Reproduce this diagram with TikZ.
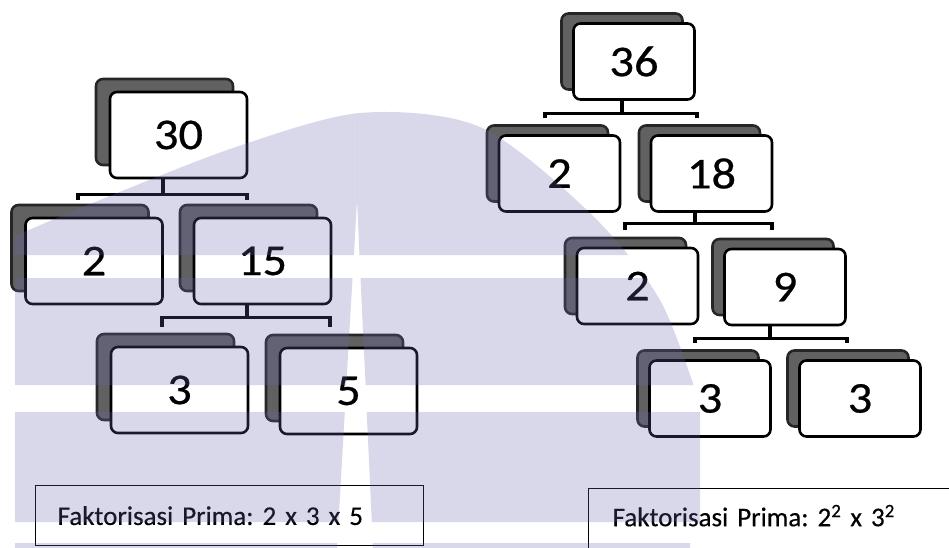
\documentclass[tikz,border=0pt]{standalone}
\usepackage{fontspec}
\usepackage{graphicx}
\setmainfont{Carlito}
\newfontfamily\numfont[FakeBold=0.5]{Carlito}
\newfontfamily\resfont[FakeBold=0.4, WordSpace=0.5]{Carlito}
\usetikzlibrary{shadows}
\definecolor{wm}{RGB}{107,103,175}
\frenchspacing
\begin{document}
\begin{tikzpicture}[x=1pt,y=-1pt,
  numbox/.style={draw=black, line width=2.6pt, fill=white, rounded corners=7pt,
    inner sep=0pt, font=\numfont\fontsize{44}{44}\selectfont},
  lbox/.style={numbox, minimum width=137pt, minimum height=86pt,
    general shadow={fill=black!62, draw=black!85, shadow xshift=-14pt, shadow yshift=13pt}},
  rbox/.style={numbox, minimum width=121pt, minimum height=76pt,
    general shadow={fill=black!62, draw=black!85, shadow xshift=-12pt, shadow yshift=10pt}},
  conn/.style={draw=black, line width=3.4pt},
  resbox/.style={draw=black, line width=1.3pt, inner ysep=0pt, anchor=north west,
    align=left, font=\resfont\fontsize{27}{27}\selectfont},
  wmfill/.style={fill=wm, fill opacity=0.25}
]
\useasboundingbox (0,0) rectangle (949,548);
\fill[white] (0,0) rectangle (949,548);

% ---------- left tree ----------
\node[lbox] (n30) at (178.5,135) {\scalebox{1.1}[1]{30}};
\node[lbox] (a2) at (94,261) {\scalebox{1.1}[1]{2}};
\node[lbox] (n15) at (262.5,261) {\scalebox{1.1}[1]{15}};
\node[lbox] (a3) at (179.5,390) {\scalebox{1.1}[1]{3}};
\node[lbox] (n5) at (348.5,391) {\scalebox{1.1}[1]{5}};

\coordinate (t1a) at (78,200);  \coordinate (t1b) at (247,200);
\draw[conn] ([xshift=-15.5pt]n30.south) -- ++(0,15) coordinate (j1);
\draw[conn] (t1a) |- (j1) -| (t1b);

\coordinate (t2a) at (162,327); \coordinate (t2b) at (330,327);
\draw[conn] ([xshift=-15.5pt]n15.south) -- ++(0,12) coordinate (j2);
\draw[conn] (t2a) |- (j2) -| (t2b);

% ---------- right tree ----------
\node[rbox] (n36) at (634,61.5) {\scalebox{1.1}[1]{36}};
\node[rbox] (b2) at (559.5,173.5) {\scalebox{1.1}[1]{2}};
\node[rbox] (n18) at (711.5,173.5) {\scalebox{1.1}[1]{18}};
\node[rbox] (c2) at (637.5,286) {\scalebox{1.1}[1]{2}};
\node[rbox] (n9) at (785,287) {\scalebox{1.1}[1]{9}};
\node[rbox] (d3) at (710,398.5) {\scalebox{1.1}[1]{3}};
\node[rbox] (e3) at (860,398.5) {\scalebox{1.1}[1]{3}};

\coordinate (t3a) at (545,118); \coordinate (t3b) at (697,118);
\draw[conn] ([xshift=-12pt]n36.south) -- ++(0,12.5) coordinate (j3);
\draw[conn] (t3a) |- (j3) -| (t3b);

\coordinate (t4a) at (625,230); \coordinate (t4b) at (772,230);
\draw[conn] ([xshift=-16.5pt]n18.south) -- ++(0,10.5) coordinate (j4);
\draw[conn] (t4a) |- (j4) -| (t4b);

\coordinate (t5a) at (695,343); \coordinate (t5b) at (847,343);
\draw[conn] ([xshift=-15pt]n9.south) -- ++(0,12) coordinate (j5);
\draw[conn] (t5a) |- (j5) -| (t5b);

% ---------- results ----------
\node[resbox, text width=344pt, inner xsep=22pt, minimum height=60pt] (resL) at (35,485)
  {Faktorisasi Prima: 2 x 3 x 5};
\node[resbox, text width=376pt, inner xsep=24pt, minimum height=70pt] (resR) at (588,488)
  {\raisebox{0pt}[\height][\dimexpr\depth+16pt\relax]{Faktorisasi Prima: 2\textsuperscript{2} x 3\textsuperscript{2}}};

% ---------- watermark ----------
\begin{scope}
\clip (15,560) -- plot[smooth] coordinates {(15,236) (100,200) (233,148) (360,113) (480,127) (590,213) (660,300) (700,405)} -- (700,560) -- cycle;
\fill[wmfill] (0,-10) -- (357,-10) -- (357,200) -- (353.9,255) -- (0,255) -- cycle;
\fill[wmfill] (357,-10) -- (720,-10) -- (720,255) -- (359.5,255) -- (357,200) -- cycle;
\fill[wmfill] (0,278) -- (352.5,278) -- (346.3,385) -- (0,385) -- cycle;
\fill[wmfill] (360.5,278) -- (720,278) -- (720,385) -- (365.6,385) -- cycle;
\fill[wmfill] (0,412) -- (344.8,412) -- (338.5,522) -- (0,522) -- cycle;
\fill[wmfill] (366.7,412) -- (720,412) -- (720,522) -- (371.8,522) -- cycle;
\fill[wmfill] (0,543) -- (337.3,543) -- (337,560) -- (0,560) -- cycle;
\fill[wmfill] (372.7,543) -- (690,543) -- (690,560) -- (373,560) -- cycle;
\end{scope}
\end{tikzpicture}
\end{document}
